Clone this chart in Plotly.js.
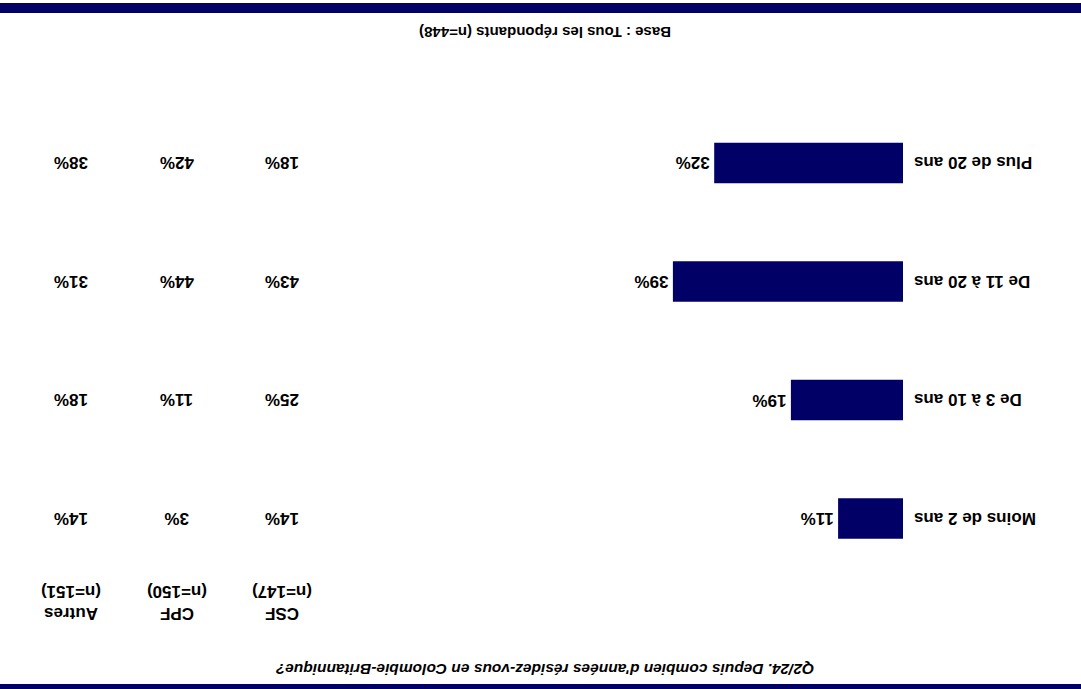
<!DOCTYPE html>
<html>
<head>
<meta charset="utf-8">
<script src="https://cdn.plot.ly/plotly-3.0.1.min.js"></script>
<style>
  html, body { margin: 0; padding: 0; background: #ffffff; }
  #chart { width: 1081px; height: 689px; transform: rotate(180deg); transform-origin: 50% 50%; }
</style>
</head>
<body>
<div id="chart"></div>
<script>
// ---- Data ----
const categories = ["Moins de 2 ans", "De 3 à 10 ans", "De 11 à 20 ans", "Plus de 20 ans"];
const totalValues = [11, 19, 39, 32];
const csfValues = [14, 25, 43, 18];
const cpfValues = [3, 11, 44, 42];
const autresValues = [14, 18, 31, 38];
const groupNames = ["CSF", "CPF", "Autres"];
const groupNs = ["(n=147)", "(n=150)", "(n=151)"];
const titleText = "Q2/24. Depuis combien d'années résidez-vous en Colombie-Britannique?";
const baseText = "Base : Tous les répondants (n=448)";

// ---- Styles ----
const NAVY = "#000066";
const FONT = "'Liberation Sans', Arial, sans-serif";
const W = 1081, H = 689;
const colX = [799 / W, 904 / W, 1010 / W];
const groupSeries = [csfValues, cpfValues, autresValues];

const barTrace = {
  type: "bar",
  orientation: "h",
  x: totalValues,
  y: categories,
  width: 0.34,
  marker: { color: NAVY, line: { width: 0 } },
  text: totalValues.map(v => "\u200A" + v + "%"),
  textposition: "outside",
  textfont: { family: FONT, size: 17, color: "#000000", weight: "bold" },
  cliponaxis: false,
  hoverinfo: "skip"
};

const annotations = [];
groupSeries.forEach((vals, gi) => {
  vals.forEach((v, ci) => {
    annotations.push({
      xref: "paper", yref: "y", x: colX[gi], y: categories[ci],
      text: v + "%", showarrow: false, xanchor: "center", yanchor: "middle",
      font: { family: FONT, size: 17, color: "#000000", weight: "bold" }
    });
  });
  annotations.push({
    xref: "paper", yref: "paper", x: colX[gi], y: 1 - 86.5 / H,
    text: groupNames[gi] + "<br>" + groupNs[gi], showarrow: false,
    xanchor: "center", yanchor: "middle", align: "center",
    font: { family: FONT, size: 17, color: "#000000", weight: "bold" }
  });
});
annotations.push({
  xref: "paper", yref: "paper", x: 536 / W, y: 1 - 656 / H,
  text: baseText, showarrow: false, xanchor: "center", yanchor: "middle",
  font: { family: FONT, size: 15, color: "#000000", weight: "bold" }
});

const layout = {
  width: W, height: H,
  margin: { l: 0, r: 0, t: 0, b: 0, pad: 0 },
  paper_bgcolor: "#ffffff", plot_bgcolor: "#ffffff",
  showlegend: false,
  title: {
    text: "<i>" + titleText + "</i>",
    x: 536 / W, y: 1 - 20 / H, xref: "paper", yref: "container",
    xanchor: "center", yanchor: "middle",
    font: { family: FONT, size: 15.5, color: "#000000", weight: "bold" }
  },
  xaxis: {
    domain: [178 / W, (178 + 590) / W],
    range: [0, 100],
    visible: false, fixedrange: true
  },
  yaxis: {
    domain: [1 - 585.25 / H, 1 - 111.25 / H],
    range: [3.5, -0.5],
    showgrid: false, zeroline: false, showline: false, ticks: "",
    ticklabelstandoff: 10,
    tickfont: { family: FONT, size: 17, color: "#000000", weight: "bold" },
    fixedrange: true
  },
  shapes: [
    { type: "rect", xref: "paper", yref: "paper", x0: 0, x1: 1, y0: 1 - 5 / H, y1: 1.01, fillcolor: NAVY, line: { width: 0 } },
    { type: "rect", xref: "paper", yref: "paper", x0: 0, x1: 1, y0: 1 - 686 / H, y1: 1 - 676 / H, fillcolor: NAVY, line: { width: 0 } }
  ],
  annotations: annotations
};

Plotly.newPlot("chart", [barTrace], layout, { displayModeBar: false, staticPlot: true });
</script>
</body>
</html>
